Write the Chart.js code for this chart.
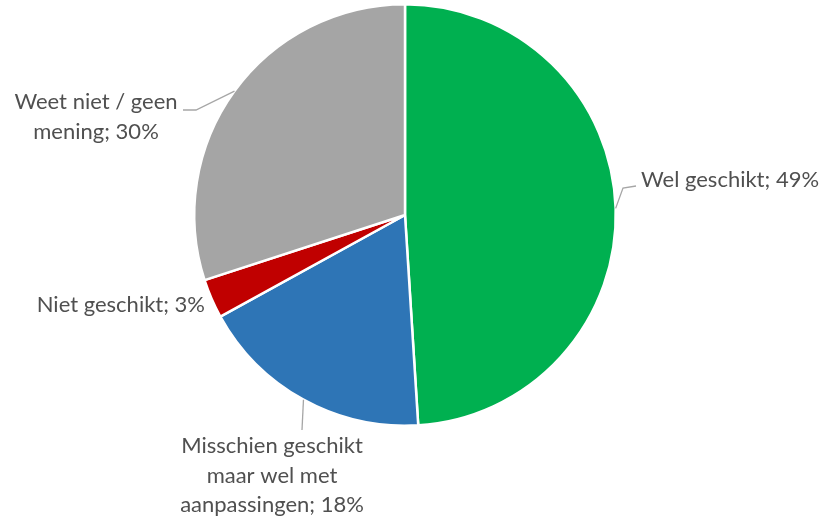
<!DOCTYPE html>
<html>
<head>
<meta charset="utf-8">
<script src="https://cdn.jsdelivr.net/npm/chart.js@4"></script>
<style>
  html, body { margin: 0; padding: 0; background: #ffffff; }
  #wrap { width: 823px; height: 519px; position: relative; }
</style>
</head>
<body>
<div id="wrap"><canvas id="c" width="823" height="519"></canvas></div>
<script>
// ---- data ----
const categories = [
  "Wel geschikt",
  "Misschien geschikt maar wel met aanpassingen",
  "Niet geschikt",
  "Weet niet / geen mening"
];
const values = [49, 18, 3, 30];
const colors = ["#00B050", "#2E75B6", "#C00000", "#A5A5A5"];
// label text lines (as shown in the chart)
const labelLines = [
  ["Wel geschikt; 49%"],
  ["Misschien geschikt", "maar wel met", "aanpassingen; 18%"],
  ["Niet geschikt; 3%"],
  ["Weet niet / geen", "mening; 30%"]
];

// ---- label layout (positions of annotation text, not data) ----
const labelLayout = [
  { x: 641, y: 180, align: "left",   leader: [[623, 188], [636, 186]] },
  { x: 272, y: 446, align: "center", leader: [[302, 430]] },
  { x: 205, y: 305, align: "right",  leader: null },
  { x: 96,  y: 102, align: "center", leader: [[196, 110], [183, 110]] }
];

const FONT = "22px Lato, 'Open Sans', sans-serif";
const LINE_H = 29.5;

const labelPlugin = {
  id: "pieLabels",
  afterDatasetsDraw(chart) {
    const ctx = chart.ctx;
    const meta = chart.getDatasetMeta(0);
    ctx.save();
    meta.data.forEach((arc, i) => {
      const p = arc.getProps(["x", "y", "startAngle", "endAngle", "outerRadius"], true);
      const mid = (p.startAngle + p.endAngle) / 2;
      const sx = p.x + Math.cos(mid) * p.outerRadius;
      const sy = p.y + Math.sin(mid) * p.outerRadius;
      const L = labelLayout[i];
      if (L.leader) {
        ctx.strokeStyle = "#A6A6A6";
        ctx.lineWidth = 1.3;
        ctx.beginPath();
        ctx.moveTo(sx, sy);
        L.leader.forEach(pt => ctx.lineTo(pt[0], pt[1]));
        ctx.stroke();
      }
      ctx.fillStyle = "#505050";
      ctx.font = FONT;
      ctx.textAlign = L.align;
      ctx.textBaseline = "middle";
      labelLines[i].forEach((t, k) => {
        ctx.fillText(t, L.x, L.y + k * LINE_H);
      });
    });
    ctx.restore();
  }
};

new Chart(document.getElementById("c"), {
  type: "pie",
  data: {
    labels: categories,
    datasets: [{
      data: values,
      backgroundColor: colors,
      borderColor: "#ffffff",
      borderWidth: 2.5
    }]
  },
  options: {
    responsive: false,
    animation: false,
    layout: { padding: { left: 193, right: 206, top: 3, bottom: 92 } },
    plugins: {
      legend: { display: false },
      tooltip: { enabled: false }
    }
  },
  plugins: [labelPlugin]
});
</script>
</body>
</html>
